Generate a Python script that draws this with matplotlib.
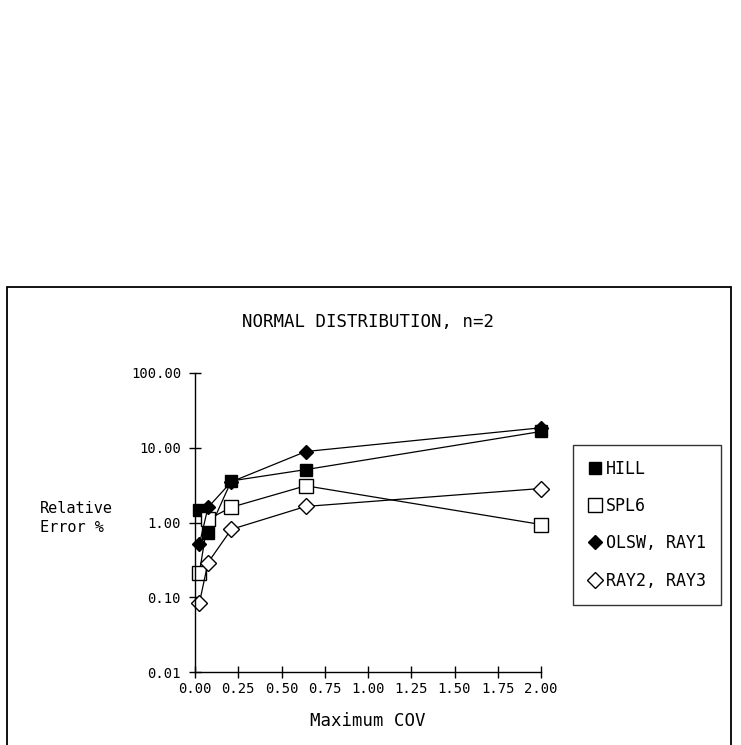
# plot.py - relative error vs maximum COV, normal distribution n=2

import matplotlib
matplotlib.use("Agg")
import matplotlib.pyplot as plt
from matplotlib.patches import Rectangle

cov = [0.025, 0.075, 0.21, 0.64, 2.0]
hill = [1.49, 0.73, 3.6, 5.1, 16.5]
spl6 = [0.21, 1.1, 1.6, 3.1, 0.94]
olsw_ray1 = [0.51, 1.59, 3.5, 8.9, 18.5]
ray2_ray3 = [0.083, 0.29, 0.81, 1.64, 2.85]

x_ticks = [0.0, 0.25, 0.5, 0.75, 1.0, 1.25, 1.5, 1.75, 2.0]
y_ticks = [0.01, 0.1, 1.0, 10.0, 100.0]

plt.rcParams['font.family'] = ['DejaVu Sans Mono', 'DejaVu Sans']

W, H = 741, 745
fig = plt.figure(figsize=(W / 100, H / 100), dpi=100)
ax = fig.add_axes([195 / W, 1 - 672 / H, (541 - 195) / W, (672 - 373) / H])

line_kw = dict(color='black', linewidth=0.9, clip_on=False)
ax.plot(cov, hill, marker='s', markersize=8.5, markerfacecolor='black',
        markeredgecolor='black', label='HILL', **line_kw)
ax.plot(cov, spl6, marker='s', markersize=10, markerfacecolor='white',
        markeredgecolor='black', markeredgewidth=1.0, label='SPL6', **line_kw)
ax.plot(cov, olsw_ray1, marker='D', markersize=7, markerfacecolor='black',
        markeredgecolor='black', label='OLSW, RAY1', **line_kw)
ax.plot(cov, ray2_ray3, marker='D', markersize=8, markerfacecolor='white',
        markeredgecolor='black', markeredgewidth=1.0, label='RAY2, RAY3', **line_kw)

ax.set_yscale('log')
ax.set_xlim(0, 2)
ax.set_ylim(0.01, 100)
ax.set_xticks(x_ticks)
ax.set_xticklabels([f'{t:.2f}' for t in x_ticks])
ax.set_yticks(y_ticks)
ax.set_yticklabels([f'{t:.2f}' for t in y_ticks])
ax.minorticks_off()
ax.tick_params(direction='inout', length=8, width=1.0, labelsize=10, colors='black')
ax.tick_params(axis='x', pad=3)
ax.tick_params(axis='y', pad=6)

for side in ['top', 'right']:
    ax.spines[side].set_visible(False)
for side in ['left', 'bottom']:
    ax.spines[side].set_linewidth(1.0)

ax.set_xlabel('Maximum COV', fontsize=12.5, labelpad=12)
fig.text(40 / W, 1 - 518 / H, 'Relative\nError %', fontsize=11, ha='left',
         va='center', linespacing=1.3)
fig.text(368 / W, 1 - 322 / H, 'NORMAL DISTRIBUTION, n=2', fontsize=12.5,
         ha='center', va='center')

leg = fig.legend(loc='upper left', bbox_to_anchor=(573 / W, 1 - 445 / H),
                 bbox_transform=fig.transFigure, fontsize=12, frameon=True,
                 fancybox=False, edgecolor='black', handlelength=0.8,
                 handletextpad=0.3, labelspacing=1.15, borderpad=0.9,
                 borderaxespad=0)
leg.get_frame().set_linewidth(1.0)
for h in leg.legend_handles:
    h.set_linestyle('none')

fig.patches.append(Rectangle((7 / W, -0.01), (731 - 7) / W, 1 - 287 / H + 0.01,
                             transform=fig.transFigure, fill=False,
                             edgecolor='black', linewidth=1.3))

fig.savefig('out.png', dpi=100)
